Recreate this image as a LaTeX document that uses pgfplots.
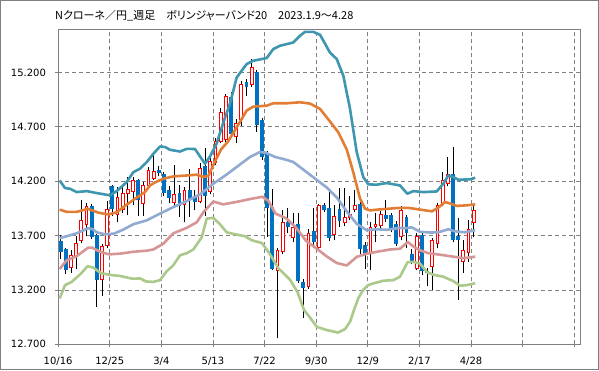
\documentclass[border=0pt]{standalone}
\usepackage{fontspec}
\setmainfont{DejaVu Sans}
\newfontfamily\jp[RawFeature=+palt]{Noto Sans CJK JP}
\usepackage{pgfplots}
\pgfplotsset{compat=1.18}
\usepackage{pgfplotstable}
\definecolor{cblue}{RGB}{0,112,192}
\definecolor{cred}{RGB}{255,0,0}
\definecolor{bteal}{RGB}{62,150,175}
\definecolor{borange}{RGB}{226,126,52}
\definecolor{bmid}{RGB}{145,170,210}
\definecolor{bpink}{RGB}{214,150,150}
\definecolor{bgreen}{RGB}{172,201,140}
\definecolor{gridgray}{RGB}{128,128,128}

\pgfplotstableread{
x o h l c
0.5 13.648 13.707 13.487 13.549
1.5 13.572 13.583 13.345 13.382
6.5 13.975 13.987 13.666 13.687
7.5 13.703 13.712 13.045 13.290
10.5 14.152 14.161 13.877 13.941
15.5 14.212 14.216 13.877 14.024
19.5 14.299 14.336 14.244 14.274
20.5 14.262 14.281 14.061 14.088
21.5 14.122 14.152 13.996 14.042
23.5 14.094 14.168 13.871 13.972
25.5 14.122 14.308 13.871 14.039
26.5 14.061 14.116 13.932 14.008
28.5 14.340 14.507 13.880 14.063
33.5 14.972 15.017 14.611 14.634
36.5 15.116 15.143 14.981 15.063
38.5 15.207 15.226 14.657 14.717
39.5 14.764 14.785 14.391 14.421
40.5 14.452 14.482 13.687 13.955
41.5 13.962 14.125 13.382 13.397
44.5 13.827 13.950 13.721 13.779
46.5 13.810 13.905 13.262 13.281
47.5 13.274 13.299 12.946 13.216
49.5 13.739 13.950 13.583 13.643
51.5 13.984 13.996 13.914 13.939
52.5 13.950 14.100 13.648 13.680
54.5 13.946 14.138 13.779 13.831
58.5 13.994 14.006 13.526 13.572
59.5 13.617 13.638 13.391 13.526
63.5 13.893 14.024 13.822 13.856
64.5 13.886 13.905 13.730 13.755
65.5 13.810 13.831 13.602 13.625
67.5 13.871 13.886 13.583 13.721
68.5 13.528 13.574 13.437 13.450
70.5 13.703 13.730 13.336 13.372
71.5 13.377 13.400 13.235 13.354
76.5 14.269 14.519 13.638 13.663
77.5 13.693 13.859 13.106 13.657
}\bear

\pgfplotstableread{
x o h l c
2.5 13.400 13.565 13.354 13.519
3.5 13.506 13.694 13.391 13.634
4.5 13.648 14.028 13.629 13.845
5.5 13.799 13.996 13.693 13.969
8.5 13.287 13.620 13.148 13.606
9.5 13.606 14.015 13.583 13.948
11.5 13.886 14.143 13.822 14.051
12.5 13.932 14.161 13.905 14.093
13.5 14.083 14.235 13.886 14.125
14.5 14.104 14.239 13.978 14.214
16.5 13.994 14.189 13.880 14.161
17.5 14.157 14.327 14.134 14.299
18.5 14.223 14.441 14.207 14.290
22.5 14.003 14.350 13.969 14.085
24.5 13.978 14.143 13.822 14.116
27.5 14.008 14.363 13.996 14.324
29.5 14.104 14.409 14.079 14.382
30.5 14.372 14.602 14.345 14.574
31.5 14.561 14.874 14.547 14.834
32.5 14.583 15.006 14.565 14.987
34.5 14.611 14.776 14.551 14.739
35.5 14.767 15.125 14.712 15.097
37.5 15.088 15.324 15.070 15.253
42.5 13.372 13.583 12.755 13.565
43.5 13.547 13.932 13.528 13.825
45.5 13.675 13.905 13.638 13.781
48.5 13.223 13.758 13.207 13.727
50.5 13.588 13.987 13.574 13.978
53.5 13.709 13.978 13.657 13.882
55.5 13.817 14.134 13.785 13.871
56.5 13.863 14.061 13.840 13.900
57.5 13.932 14.116 13.914 13.984
60.5 13.526 13.822 13.382 13.783
61.5 13.779 13.905 13.638 13.804
62.5 13.785 13.923 13.758 13.902
66.5 13.689 13.969 13.657 13.937
69.5 13.397 13.721 13.382 13.698
72.5 13.414 13.675 13.198 13.657
73.5 13.627 13.996 13.583 13.978
74.5 13.987 14.283 13.969 14.207
75.5 14.171 14.421 14.152 14.269
78.5 13.460 13.657 13.357 13.565
79.5 13.544 13.840 13.455 13.764
80.5 13.817 13.987 13.684 13.932
}\bull

\pgfplotsset{
  candlebar/.style 2 args={only marks, mark=*, mark size=0pt,
    mark options={draw=none, fill=none},
    error bars/.cd, y dir=plus, y explicit, error mark=none,
    error bar style={draw=#1, line width=#2}},
}

\begin{document}
\begin{tikzpicture}[x=1pt,y=1pt]
\useasboundingbox (0,0) rectangle (599,370);
\fill[white] (0,0) rectangle (599,370);
\draw[gridgray, line width=1pt] (0.5,0.5) rectangle (598.5,369.5);
\node[anchor=base west, inner sep=0pt, font=\jp\fontsize{11}{13}\selectfont] at (55,350.5) {Nクローネ／円\_週足　ボリンジャーバンド20　2023.1.9～4.28};
\begin{axis}[
  at={(58.1pt,25.7pt)}, anchor=south west,
  width=521.9pt, height=315.3pt, scale only axis,
  xmin=0, xmax=101.1, ymin=12.7, ymax=15.6,
  xtick={0,10,...,100},
  xticklabels={10/16,12/25,3/4,5/13,7/22,9/30,12/9,2/17,4/28,{},{}},
  ytick={12.7,13.2,13.7,14.2,14.7,15.2},
  yticklabel={\pgfmathprintnumber[fixed,fixed zerofill,precision=3,assume math mode=true]{\tick}},
  tick pos=left,
  tick align=outside,
  major tick length=3pt,
  tick style={gridgray, line width=0.8pt},
  axis line style={gridgray, line width=1pt},
  grid=major,
  major grid style={gridgray, line width=0.8pt, dash pattern=on 4pt off 3pt},
  yticklabel style={font=\fontsize{10}{12}\selectfont, anchor=east, inner sep=0pt, xshift=-9pt},
  xticklabel style={font=\fontsize{10}{12}\selectfont, anchor=base, inner sep=0pt, yshift=-17pt},
]
% wicks
\addplot[candlebar={black}{0.9pt}]
  table[x=x, y=l, y error expr=\thisrow{h}-\thisrow{l}] {\bear};
\addplot[candlebar={black}{0.9pt}]
  table[x=x, y=l, y error expr=\thisrow{h}-\thisrow{l}] {\bull};
% bearish bodies
\addplot[candlebar={cblue}{3.8pt}]
  table[x=x, y=c, y error expr=\thisrow{o}-\thisrow{c}] {\bear};
% bullish bodies
\addplot[candlebar={cred}{3.8pt}]
  table[x=x, y=o, y error expr=\thisrow{c}-\thisrow{o}] {\bull};
\addplot[candlebar={white}{1.8pt}]
  table[x=x, y expr=\thisrow{o}+0.0092, y error expr={max(\thisrow{c}-\thisrow{o}-0.0184,0)}] {\bull};
% bands
\addplot[bgreen, line width=2.6pt, line join=round, mark=none] coordinates {
(0.3,13.122)(1.34,13.244)(2.63,13.274)(4.44,13.351)(5.70,13.418)(6.76,13.407)(8.31,13.354)(10.44,13.336)(11.99,13.329)(14.41,13.303)(15.87,13.306)(17.03,13.278)(18.44,13.274)(19.74,13.290)(21.04,13.372)(22.32,13.427)(23.62,13.519)(24.91,13.538)(26.19,13.572)(27.82,13.684)(28.79,13.856)(30.07,13.863)(31.36,13.804)(32.66,13.730)(34.27,13.712)(36.21,13.694)(37.51,13.657)(39.50,13.631)(40.86,13.542)(42.66,13.400)(44.92,13.294)(46.38,13.180)(47.64,13.015)(48.80,12.946)(50.10,12.861)(52.03,12.831)(54.22,12.808)(55.58,12.840)(56.55,12.907)(57.32,13.015)(58.16,13.125)(59.07,13.198)(60.04,13.244)(61.06,13.260)(63.00,13.285)(64.94,13.290)(66.23,13.322)(67.69,13.455)(68.81,13.458)(70.11,13.443)(71.47,13.363)(72.69,13.340)(74.62,13.322)(76.56,13.281)(77.86,13.239)(79.16,13.244)(80.8,13.262)};
\addplot[bpink, line width=2.6pt, line join=round, mark=none] coordinates {
(0.3,13.393)(1.67,13.473)(3.60,13.510)(5.79,13.588)(6.57,13.590)(8.12,13.551)(9.86,13.527)(12.18,13.535)(14.57,13.551)(17.16,13.561)(18.44,13.572)(20.38,13.625)(22.32,13.721)(24.91,13.771)(26.85,13.822)(28.13,13.914)(30.07,14.013)(32.00,13.987)(34.91,14.013)(37.50,14.039)(39.60,14.057)(40.76,14.017)(42.12,13.902)(44.15,13.860)(45.99,13.779)(48.02,13.652)(49.96,13.585)(51.99,13.510)(53.97,13.448)(55.91,13.425)(57.85,13.504)(59.78,13.533)(61.97,13.553)(64.30,13.572)(66.23,13.579)(67.73,13.641)(68.95,13.595)(70.11,13.565)(71.72,13.538)(73.98,13.524)(76.56,13.506)(78.44,13.492)(80.8,13.506)};
\addplot[bmid, line width=2.6pt, line join=round, mark=none] coordinates {
(0.3,13.677)(1.67,13.694)(3.60,13.721)(5.79,13.767)(6.57,13.762)(7.48,13.730)(9.09,13.712)(10.83,13.718)(12.63,13.755)(14.57,13.804)(17.16,13.840)(19.74,13.902)(22.32,13.962)(24.91,14.017)(27.49,14.079)(30.07,14.177)(32.66,14.262)(35.24,14.354)(37.18,14.423)(39.11,14.469)(40.28,14.461)(42.02,14.423)(43.96,14.400)(45.56,14.377)(48.16,14.283)(50.10,14.212)(52.03,14.143)(53.97,14.051)(55.91,13.923)(57.85,13.808)(59.78,13.749)(61.72,13.758)(63.66,13.753)(66.23,13.771)(67.20,13.767)(68.50,13.776)(70.11,13.735)(72.05,13.728)(73.65,13.730)(75.59,13.758)(76.89,13.739)(78.83,13.730)(80.8,13.749)};
\addplot[borange, line width=2.6pt, line join=round, mark=none] coordinates {
(0.3,13.939)(1.67,13.918)(3.60,13.918)(5.79,13.946)(7.79,13.911)(9.72,13.894)(11.35,13.914)(12.96,13.973)(14.90,14.039)(16.83,14.100)(17.80,14.161)(18.77,14.189)(20.38,14.223)(22.32,14.244)(24.91,14.253)(26.85,14.260)(28.13,14.239)(29.10,14.249)(30.40,14.382)(31.56,14.492)(32.91,14.565)(34.60,14.696)(36.54,14.850)(37.82,14.886)(40.41,14.895)(41.69,14.917)(44.29,14.917)(46.86,14.926)(48.80,14.914)(50.74,14.865)(52.67,14.749)(54.28,14.650)(55.91,14.492)(57.19,14.281)(58.49,14.040)(59.45,13.948)(60.42,13.932)(62.36,13.941)(64.30,13.948)(66.23,13.955)(67.84,13.955)(70.11,13.939)(72.43,13.923)(73.65,13.957)(74.95,14.008)(75.92,13.996)(77.22,13.973)(79.16,13.978)(80.8,13.987)};
\addplot[bteal, line width=2.6pt, line join=round, mark=none] coordinates {
(0.3,14.207)(1.34,14.137)(2.31,14.131)(3.60,14.100)(5.54,14.109)(7.48,14.091)(10.05,14.070)(11.35,14.109)(13.29,14.192)(14.57,14.283)(15.87,14.315)(17.16,14.375)(18.44,14.452)(19.74,14.519)(20.71,14.515)(21.68,14.489)(23.62,14.473)(24.91,14.498)(26.52,14.496)(27.49,14.428)(28.46,14.361)(29.43,14.428)(30.72,14.547)(32.0,14.739)(33.3,14.914)(34.6,15.155)(36.54,15.278)(37.81,15.308)(40.41,15.333)(41.69,15.416)(42.99,15.446)(45.56,15.476)(46.86,15.538)(47.83,15.574)(49.44,15.574)(50.74,15.547)(52.68,15.382)(53.97,15.324)(55.25,15.171)(56.55,14.865)(57.85,14.467)(59.12,14.238)(60.09,14.171)(61.72,14.168)(63.66,14.183)(66.23,14.161)(67.65,14.085)(68.81,14.109)(70.75,14.100)(73.34,14.106)(74.62,14.177)(75.59,14.253)(76.56,14.238)(77.53,14.214)(79.8,14.217)(80.8,14.232)};
\end{axis}
\end{tikzpicture}
\end{document}
